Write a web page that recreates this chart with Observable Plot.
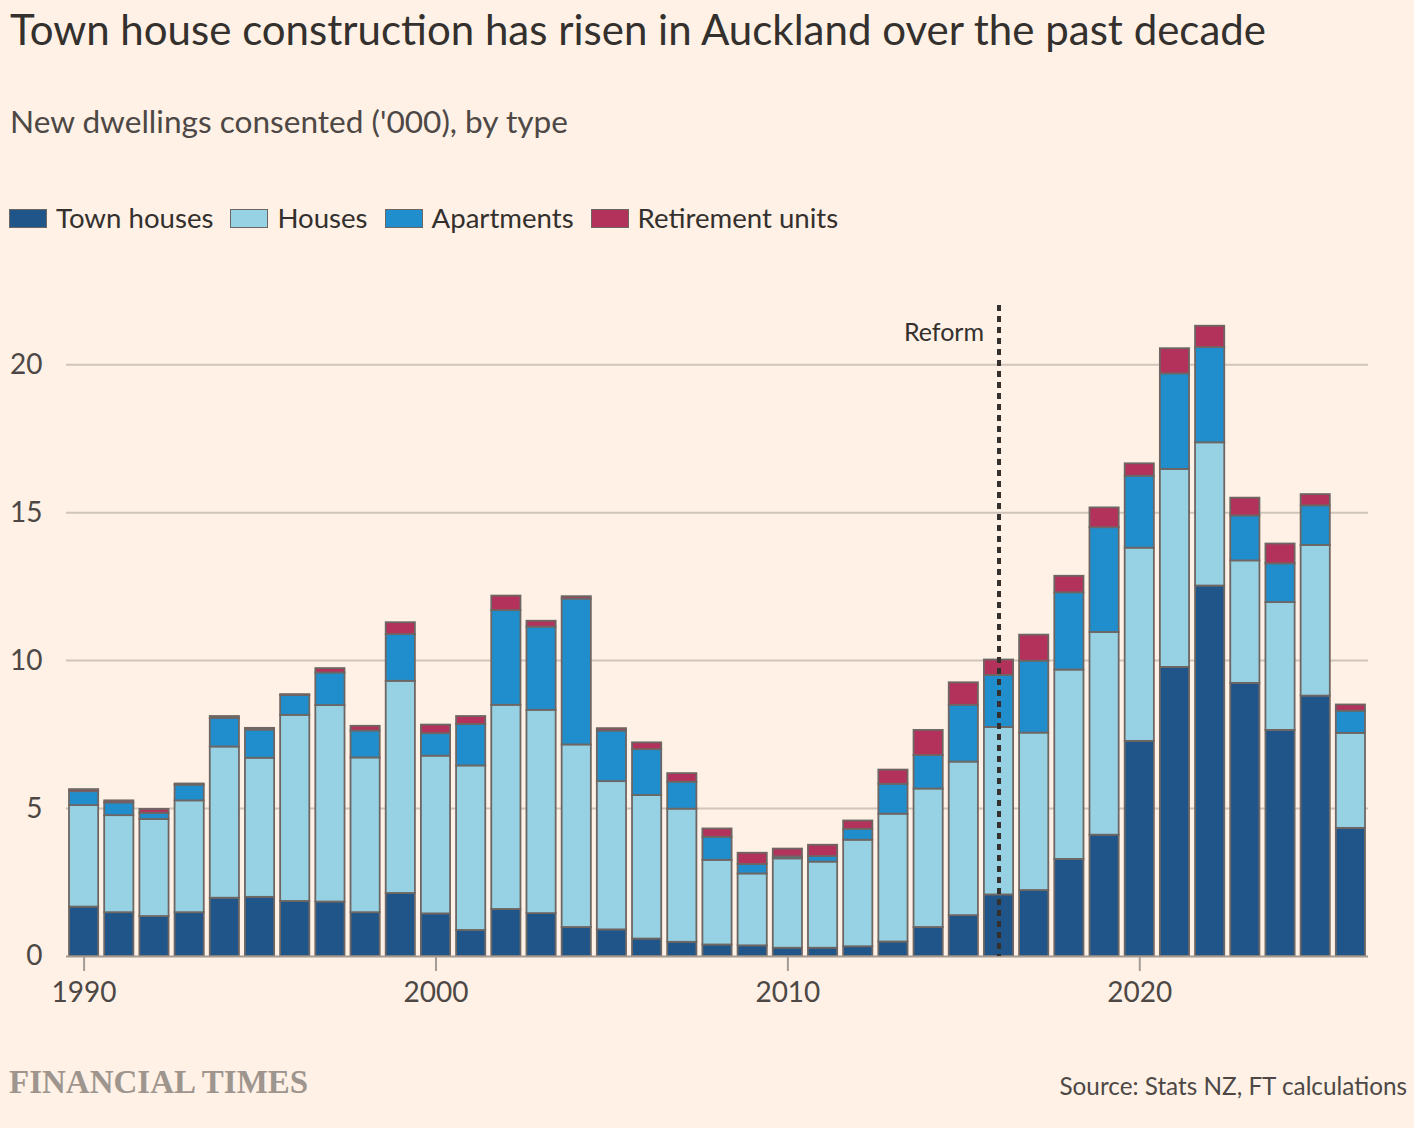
<!DOCTYPE html>
<html><head><meta charset="utf-8">
<script src="https://cdn.jsdelivr.net/npm/d3@7"></script>
<script src="https://cdn.jsdelivr.net/npm/@observablehq/plot@0.6"></script>
<style>
html,body{margin:0;padding:0;}
body{background:#fff1e5;width:1414px;height:1128px;position:relative;overflow:hidden;font-family:Lato,"Noto Sans",sans-serif;color:#33302e;}
.abs{position:absolute;white-space:nowrap;line-height:1;}
#legend{display:flex;align-items:center;}
.item{display:flex;align-items:center;margin-right:17px;}
.sw{width:36px;height:17px;border:1.5px solid #6e6663;margin-right:9px;box-sizing:content-box;}
#chart{position:absolute;left:0;top:290px;}
</style></head><body>
<div class="abs" style="left:10px;top:8px;font-size:42px;color:#33302e">Town house construction has risen in Auckland over the past decade</div>
<div class="abs" style="left:10px;top:106px;font-size:31.6px;color:#4d4845">New dwellings consented ('000), by type</div>
<div id="legend" class="abs" style="left:9px;top:203px;font-size:27.6px;height:30px;"></div>
<div id="chart"></div>
<div class="abs" style="left:9px;top:1066px;font-size:33px;font-family:'Liberation Serif',serif;font-weight:bold;color:#9e958e;">FINANCIAL TIMES</div>
<div class="abs" style="right:7px;top:1074px;font-size:24.3px;color:#4d4845">Source: Stats NZ, FT calculations</div>
<script>
const years = [1990,1991,1992,1993,1994,1995,1996,1997,1998,1999,2000,2001,2002,2003,2004,2005,2006,2007,2008,2009,2010,2011,2012,2013,2014,2015,2016,2017,2018,2019,2020,2021,2022,2023,2024,2025,2026];
const townHouses = [1.67,1.48,1.35,1.48,1.97,2.00,1.86,1.84,1.48,2.13,1.44,0.88,1.59,1.45,0.98,0.90,0.59,0.48,0.39,0.36,0.28,0.28,0.33,0.49,0.98,1.38,2.08,2.23,3.28,4.10,7.27,9.77,12.52,9.23,7.64,8.80,4.33];
const houses = [3.43,3.28,3.28,3.78,5.11,4.70,6.29,6.64,5.23,7.17,5.33,5.56,6.90,6.87,6.17,5.01,4.85,4.50,2.86,2.43,3.02,2.91,3.60,4.32,4.68,5.19,5.66,5.32,6.40,6.85,6.53,6.69,4.84,4.14,4.32,5.09,3.21];
const apartments = [0.47,0.43,0.21,0.53,0.97,0.95,0.67,1.10,0.91,1.58,0.76,1.40,3.20,2.81,4.93,1.71,1.55,0.91,0.78,0.32,0.07,0.19,0.37,1.01,1.13,1.92,1.76,2.43,2.61,3.54,2.43,3.23,3.22,1.52,1.31,1.34,0.75];
const retirementUnits = [0.07,0.07,0.13,0.04,0.06,0.06,0.03,0.15,0.16,0.40,0.29,0.27,0.49,0.20,0.08,0.08,0.23,0.29,0.28,0.38,0.26,0.38,0.28,0.48,0.85,0.76,0.52,0.88,0.56,0.67,0.42,0.85,0.72,0.60,0.67,0.38,0.21];
const types = ["Town houses","Houses","Apartments","Retirement units"];
const colors = ["#20558a","#96d2e4","#208ecc","#b2325c"];
const xTicks = [1990,2000,2010,2020];
const yTicks = [0,5,10,15,20];
const gridTicks = [5,10,15,20];
const reform = [{year:2016,label:"Reform"}];

// legend
const lg = document.getElementById("legend");
types.forEach((t,i)=>{
  const it = document.createElement("div"); it.className="item";
  const sw = document.createElement("div"); sw.className="sw"; sw.style.background=colors[i];
  const tx = document.createElement("span"); tx.textContent=t;
  it.appendChild(sw); it.appendChild(tx); lg.appendChild(it);
});

// stack
const series = [townHouses, houses, apartments, retirementUnits];
const rows = [];
years.forEach((yr,i)=>{
  let base = 0;
  types.forEach((t,k)=>{
    const v = series[k][i];
    rows.push({year:yr, type:t, y1:base, y2:base+v});
    base += v;
  });
});

const chart = Plot.plot({
  width:1414, height:730,
  marginLeft:66, marginRight:46, marginTop:15, marginBottom:64,
  style:{background:"transparent", fontFamily:"Lato, 'Noto Sans', sans-serif", color:"#4d4845"},
  x:{type:"linear", domain:[1989.5,2026.5]},
  y:{domain:[0,22]},
  color:{domain:types, range:colors},
  marks:[
    Plot.gridY(gridTicks, {stroke:"#cfc5bb", strokeOpacity:1, strokeWidth:2}),
    Plot.axisY(yTicks, {tickSize:0, tickPadding:24, fontSize:28, fill:"#4d4845", label:null}),
    Plot.axisX(xTicks, {tickSize:15, tickPadding:11, fontSize:28, fill:"#4d4845", stroke:"#a39b94", strokeWidth:2, tickFormat:d=>String(d), label:null}),
    Plot.rect(rows, {x1:d=>d.year-0.5, x2:d=>d.year+0.5, y1:"y1", y2:"y2", fill:"type", stroke:"#6e6663", strokeWidth:1.8, insetLeft:3, insetRight:3}),
    Plot.ruleY([0], {stroke:"#a39b94", strokeWidth:2}),
    Plot.ruleX(reform, {x:"year", stroke:"#33302e", strokeWidth:4, strokeDasharray:"6,5"}),
    Plot.text(reform, {x:"year", text:"label", frameAnchor:"top", dy:18, dx:-15, textAnchor:"end", fontSize:25, fill:"#33302e"})
  ]
});
document.getElementById("chart").appendChild(chart);
</script>
</body></html>
